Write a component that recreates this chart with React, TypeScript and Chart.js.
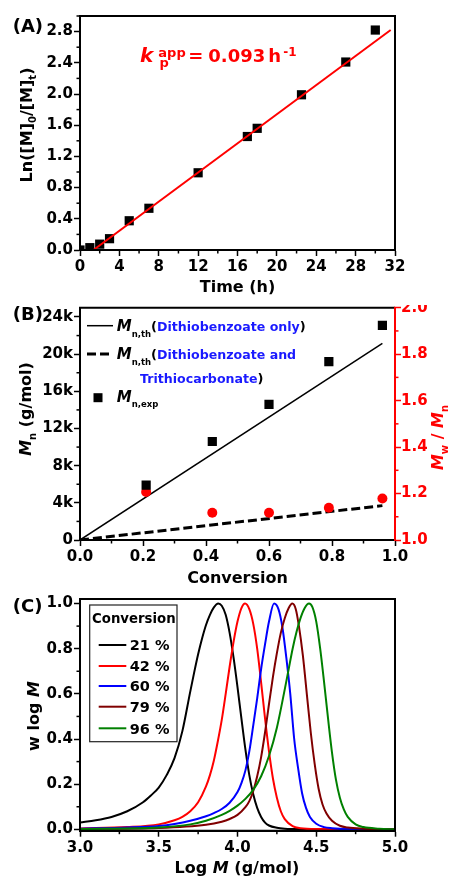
import React, { useEffect, useRef } from 'react';
import { Chart, registerables } from 'chart.js';
Chart.register(...registerables);

const FONT = '"DejaVu Sans", "Liberation Sans", sans-serif';
const RED = '#ff0000';
const BLUE_TXT = '#1a1aff';

// ---------- Panel A: kinetics ----------
const timeH = [0, 1, 2, 3, 5, 7, 12, 17, 18, 22.5, 27, 30];
const lnM0Mt = [0, 0.03, 0.075, 0.145, 0.375, 0.535, 0.99, 1.455, 1.56, 1.99, 2.41, 2.82];
const fitTime = [1.36, 31.56];
const fitLn = [0, 2.82];

// ---------- Panel B: Mn (in k g/mol) and dispersity vs conversion ----------
const convExp = [0.21, 0.42, 0.6, 0.79, 0.96];
const mnExpK = [5.9, 10.6, 14.6, 19.2, 23.1];
const dispersity = [1.207, 1.117, 1.117, 1.139, 1.179];
const convTh = [0, 0.96];
const mnThDithioK = [0, 21.15];
const mnThDithioTrithioK = [0, 3.7];

// ---------- Panel C: GPC traces ----------
const convLabels = ['21 %', '42 %', '60 %', '79 %', '96 %'];
const traceColors = ['#000000', '#ff0000', '#0000ff', '#800000', '#008000'];
const c21X = [3.0, 3.1, 3.2, 3.3, 3.4, 3.45, 3.5, 3.55, 3.6, 3.65, 3.7, 3.725, 3.75, 3.775, 3.8, 3.825, 3.85, 3.878, 3.9, 3.925, 3.95, 3.975, 4.0, 4.025, 4.05, 4.075, 4.1, 4.125, 4.15, 4.175, 4.2, 4.25, 4.3, 4.4, 5.0];
const c21Y = [0.03, 0.04, 0.055, 0.08, 0.12, 0.15, 0.185, 0.24, 0.315, 0.435, 0.61, 0.695, 0.775, 0.845, 0.905, 0.95, 0.983, 1.0, 0.99, 0.95, 0.87, 0.76, 0.63, 0.49, 0.355, 0.24, 0.155, 0.095, 0.055, 0.03, 0.017, 0.007, 0.003, 0.001, 0.0];
const c42X = [3.0, 3.3, 3.5, 3.6, 3.65, 3.7, 3.75, 3.8, 3.825, 3.85, 3.875, 3.9, 3.925, 3.95, 3.975, 4.0, 4.025, 4.048, 4.075, 4.1, 4.125, 4.15, 4.175, 4.2, 4.225, 4.25, 4.275, 4.3, 4.35, 4.4, 4.5, 5.0];
const c42Y = [0.004, 0.01, 0.022, 0.04, 0.055, 0.08, 0.12, 0.19, 0.24, 0.305, 0.39, 0.485, 0.6, 0.72, 0.83, 0.92, 0.98, 1.0, 0.975, 0.91, 0.8, 0.65, 0.49, 0.345, 0.225, 0.14, 0.08, 0.045, 0.014, 0.005, 0.001, 0.0];
const c60X = [3.0, 3.3, 3.5, 3.6, 3.7, 3.8, 3.85, 3.9, 3.95, 4.0, 4.025, 4.05, 4.075, 4.1, 4.125, 4.15, 4.175, 4.2, 4.232, 4.26, 4.285, 4.31, 4.335, 4.36, 4.385, 4.41, 4.435, 4.46, 4.5, 4.55, 4.6, 4.7, 5.0];
const c60Y = [0.003, 0.008, 0.015, 0.024, 0.038, 0.058, 0.072, 0.09, 0.118, 0.165, 0.205, 0.26, 0.345, 0.46, 0.58, 0.71, 0.82, 0.92, 1.0, 0.975, 0.895, 0.76, 0.6, 0.4, 0.27, 0.16, 0.095, 0.055, 0.025, 0.01, 0.005, 0.001, 0.0];
const c79X = [3.0, 3.5, 3.8, 3.9, 3.95, 4.0, 4.05, 4.075, 4.1, 4.125, 4.15, 4.175, 4.2, 4.225, 4.25, 4.275, 4.3, 4.325, 4.348, 4.37, 4.39, 4.415, 4.44, 4.465, 4.49, 4.515, 4.54, 4.565, 4.6, 4.65, 4.7, 4.8, 5.0];
const c79Y = [0.002, 0.006, 0.02, 0.034, 0.046, 0.064, 0.098, 0.125, 0.17, 0.235, 0.32, 0.43, 0.555, 0.675, 0.78, 0.87, 0.935, 0.98, 1.0, 0.975, 0.9, 0.77, 0.6, 0.43, 0.29, 0.18, 0.11, 0.07, 0.038, 0.016, 0.008, 0.003, 0.0];
const c96X = [3.0, 3.5, 3.7, 3.8, 3.9, 3.95, 4.0, 4.05, 4.1, 4.15, 4.2, 4.25, 4.3, 4.325, 4.35, 4.375, 4.4, 4.425, 4.454, 4.475, 4.5, 4.525, 4.55, 4.575, 4.6, 4.625, 4.65, 4.675, 4.7, 4.75, 4.8, 4.9, 5.0];
const c96Y = [0.001, 0.008, 0.022, 0.038, 0.064, 0.082, 0.105, 0.135, 0.175, 0.235, 0.325, 0.45, 0.62, 0.71, 0.8, 0.875, 0.935, 0.978, 1.0, 0.985, 0.92, 0.8, 0.65, 0.49, 0.34, 0.22, 0.14, 0.088, 0.055, 0.022, 0.01, 0.003, 0.0];
const tracesX = [c21X, c42X, c60X, c79X, c96X];
const tracesY = [c21Y, c42Y, c60Y, c79Y, c96Y];

const pts = (xs: number[], ys: number[]) => xs.map((x, i) => ({ x, y: ys[i] }));

type Run = { t: string; s: number; i?: boolean; dy?: number; c?: string; w?: string };
function rich(ctx: CanvasRenderingContext2D, runs: Run[], x: number, y: number, align: 'left' | 'center' = 'left', rot = 0) {
  ctx.save();
  ctx.translate(x, y);
  if (rot) ctx.rotate(rot);
  ctx.textBaseline = 'alphabetic';
  ctx.textAlign = 'left';
  const fonts = runs.map(r => `${r.i ? 'italic ' : ''}${r.w || 'bold'} ${r.s}px ${FONT}`);
  let total = 0;
  const widths = runs.map((r, k) => {
    ctx.font = fonts[k];
    const w = ctx.measureText(r.t).width;
    total += w;
    return w;
  });
  let cx = align === 'center' ? -total / 2 : 0;
  runs.forEach((r, k) => {
    ctx.font = fonts[k];
    ctx.fillStyle = r.c || '#000';
    ctx.fillText(r.t, cx, r.dy || 0);
    cx += widths[k];
  });
  ctx.restore();
}

function frame(ctx: CanvasRenderingContext2D, ca: any, rightColor = '#000') {
  ctx.save();
  ctx.lineWidth = 2;
  ctx.strokeStyle = '#000';
  ctx.beginPath();
  ctx.moveTo(ca.left, ca.bottom + 1);
  ctx.lineTo(ca.left, ca.top);
  ctx.lineTo(ca.right, ca.top);
  ctx.moveTo(ca.left - 1, ca.bottom);
  ctx.lineTo(ca.right + 1, ca.bottom);
  ctx.stroke();
  ctx.strokeStyle = rightColor;
  ctx.beginPath();
  ctx.moveTo(ca.right, ca.top - 1);
  ctx.lineTo(ca.right, ca.bottom + 1);
  ctx.stroke();
  ctx.restore();
}

function minorTicks(chart: any, id: string, step: number, major: number, side: 'bottom' | 'left' | 'right', color = '#000') {
  const ctx = chart.ctx as CanvasRenderingContext2D;
  const s = chart.scales[id];
  const ca = chart.chartArea;
  ctx.save();
  ctx.strokeStyle = color;
  ctx.lineWidth = 1.5;
  const start = Math.ceil(s.min / step - 1e-9);
  const end = Math.floor(s.max / step + 1e-9);
  for (let k = start; k <= end; k++) {
    const v = k * step;
    const r = v / major;
    if (Math.abs(r - Math.round(r)) < 1e-6) continue;
    const p = s.getPixelForValue(v);
    ctx.beginPath();
    if (side === 'bottom') { ctx.moveTo(p, ca.bottom); ctx.lineTo(p, ca.bottom + 3.5); }
    if (side === 'left') { ctx.moveTo(ca.left - 3.5, p); ctx.lineTo(ca.left, p); }
    if (side === 'right') { ctx.moveTo(ca.right, p); ctx.lineTo(ca.right + 3.5, p); }
    ctx.stroke();
  }
  ctx.restore();
}

function axis(o: {
  position: string; min: number; max: number; step: number; color?: string; padding: number;
  size: number; cb: (v: number) => string;
}) {
  const color = o.color || '#000';
  const horiz = o.position === 'bottom';
  return {
    type: 'linear',
    position: o.position,
    min: o.min,
    max: o.max,
    grid: { display: true, drawOnChartArea: false, drawTicks: true, tickLength: 6, tickWidth: 1.5, tickColor: color, color },
    border: { display: true, color, width: 2 },
    ticks: {
      stepSize: o.step,
      includeBounds: false,
      autoSkip: false,
      maxRotation: 0,
      color,
      padding: o.padding,
      font: { family: FONT, size: 15, weight: 'bold' },
      callback: (v: any) => o.cb(Number(v)),
    },
    afterFit: (s: any) => {
      if (horiz) s.height = o.size;
      else s.width = o.size;
    },
  };
}

const baseOptions = (padding: any) => ({
  responsive: false,
  animation: false,
  devicePixelRatio: 1,
  layout: { padding },
  plugins: { legend: { display: false }, tooltip: { enabled: false } },
});

function cfgA(): any {
  const off = 0;
  return {
    type: 'line',
    data: {
      datasets: [
        {
          data: pts(fitTime, fitLn), borderColor: RED, borderWidth: 2, pointRadius: 0, showLine: true, order: 0,
        },
        {
          data: pts(timeH, lnM0Mt), showLine: false, pointStyle: 'rect', pointRadius: 6.5,
          backgroundColor: '#000', borderWidth: 0, order: 1,
        },
      ],
    },
    options: {
      ...baseOptions({ top: 16, right: 57, left: 0, bottom: 0 }),
      scales: {
        x: axis({ position: 'bottom', min: 0, max: 32, step: 4, padding: 2, size: 46, cb: v => String(v) }),
        y: axis({ position: 'left', min: 0, max: 3.0, step: 0.4, padding: 1, size: 80, cb: v => v.toFixed(1) }),
      },
    },
    plugins: [{
      id: 'decorA',
      afterDraw(chart: any) {
        const ctx = chart.ctx as CanvasRenderingContext2D;
        frame(ctx, chart.chartArea);
        minorTicks(chart, 'x', 2, 4, 'bottom');
        minorTicks(chart, 'y', 0.2, 0.4, 'left');
        rich(ctx, [{ t: '(A)', s: 18 }], 12.7, 31.7 - off);
        rich(ctx, [{ t: 'Time (h)', s: 16 }], 237.5, 292 - off, 'center');
        rich(ctx, [
          { t: 'Ln([M]', s: 16 }, { t: '0', s: 10, dy: 4 }, { t: '/[M]', s: 16 }, { t: 't', s: 10, dy: 4 }, { t: ')', s: 16 },
        ], 32, 125 - off, 'center', -Math.PI / 2);
        // k_p^app annotation
        rich(ctx, [{ t: 'k', s: 20, i: true, c: RED }], 140, 61.7 - off);
        rich(ctx, [{ t: 'app', s: 13, c: RED }], 158.3, 57.3 - off);
        rich(ctx, [{ t: 'p', s: 13, c: RED }], 159.5, 66.6 - off);
        rich(ctx, [{ t: '=', s: 18, c: RED }], 188.3, 62 - off);
        rich(ctx, [{ t: '0.093', s: 18, c: RED }], 208.3, 62 - off);
        rich(ctx, [{ t: 'h', s: 18, c: RED }], 268.3, 62 - off);
        rich(ctx, [{ t: '-1', s: 12, c: RED }], 283.3, 56 - off);
      },
    }],
  };
}

function cfgB(): any {
  const off = 290;
  return {
    type: 'line',
    data: {
      datasets: [
        {
          data: pts(convExp, mnExpK), showLine: false, pointStyle: 'rect', pointRadius: 6.5,
          backgroundColor: '#000', borderWidth: 0, yAxisID: 'y', order: 0,
        },
        {
          data: pts(convExp, dispersity), showLine: false, pointStyle: 'circle', pointRadius: 5,
          backgroundColor: RED, borderWidth: 0, yAxisID: 'y2', order: 1,
        },
        {
          data: pts(convTh, mnThDithioK), borderColor: '#000', borderWidth: 1.5, pointRadius: 0,
          showLine: true, yAxisID: 'y', order: 2,
        },
        {
          data: pts(convTh, mnThDithioTrithioK), borderColor: '#000', borderWidth: 3, borderDash: [9, 4],
          pointRadius: 0, showLine: true, yAxisID: 'y', order: 3,
        },
      ],
    },
    options: {
      ...baseOptions({ top: 17.7, right: 0, left: 0, bottom: 0 }),
      scales: {
        x: axis({ position: 'bottom', min: 0, max: 1.0, step: 0.2, padding: 2, size: 45, cb: v => v.toFixed(1) }),
        y: axis({ position: 'left', min: 0, max: 25, step: 4, padding: 1, size: 80, cb: v => (v === 0 ? '0' : v + 'k') }),
        y2: axis({ position: 'right', min: 1.0, max: 2.0, step: 0.2, padding: 0, size: 57, color: RED, cb: v => v.toFixed(1) }),
      },
    },
    plugins: [{
      id: 'decorB',
      afterDraw(chart: any) {
        const ctx = chart.ctx as CanvasRenderingContext2D;
        frame(ctx, chart.chartArea, RED);
        minorTicks(chart, 'x', 0.1, 0.2, 'bottom');
        minorTicks(chart, 'y', 2, 4, 'left');
        minorTicks(chart, 'y2', 0.1, 0.2, 'right', RED);
        rich(ctx, [{ t: '(B)', s: 18 }], 12.7, 319.7 - off);
        rich(ctx, [{ t: 'Conversion', s: 16 }], 237.5, 582.5 - off, 'center');
        rich(ctx, [{ t: 'M', s: 16, i: true }, { t: 'n', s: 10, dy: 5 }, { t: ' (g/mol)', s: 16 }],
          31, 409 - off, 'center', -Math.PI / 2);
        rich(ctx, [
          { t: 'M', s: 16, i: true, c: RED }, { t: 'w', s: 10, dy: 5, c: RED }, { t: ' / ', s: 16, c: RED },
          { t: 'M', s: 16, i: true, c: RED }, { t: 'n', s: 10, dy: 5, c: RED },
        ], 443.3, 437.5 - off, 'center', -Math.PI / 2);

        // legend
        ctx.save();
        ctx.strokeStyle = '#000';
        ctx.lineWidth = 1.5;
        ctx.beginPath(); ctx.moveTo(87, 325.7 - off); ctx.lineTo(113, 325.7 - off); ctx.stroke();
        ctx.lineWidth = 3;
        ctx.setLineDash([9, 4]);
        ctx.beginPath(); ctx.moveTo(87, 354 - off); ctx.lineTo(113, 354 - off); ctx.stroke();
        ctx.setLineDash([]);
        ctx.fillStyle = '#000';
        ctx.fillRect(93.5, 393.2 - off, 9, 9);
        ctx.restore();
        rich(ctx, [
          { t: 'M', s: 15, i: true }, { t: 'n,th', s: 8.5, dy: 6 }, { t: '(', s: 13 },
          { t: 'Dithiobenzoate only', s: 12.6, c: BLUE_TXT }, { t: ')', s: 13 },
        ], 116.7, 330.5 - off);
        rich(ctx, [
          { t: 'M', s: 15, i: true }, { t: 'n,th', s: 8.5, dy: 6 }, { t: '(', s: 13 },
          { t: 'Dithiobenzoate and', s: 12.6, c: BLUE_TXT },
        ], 116.7, 359 - off);
        rich(ctx, [{ t: 'Trithiocarbonate', s: 12.6, c: BLUE_TXT }, { t: ')', s: 13 }], 140, 383 - off);
        rich(ctx, [{ t: 'M', s: 15, i: true }, { t: 'n,exp', s: 8.5, dy: 5 }], 116.7, 402.3 - off);
      },
    }],
  };
}

function cfgC(): any {
  const off = 585;
  return {
    type: 'line',
    data: {
      datasets: tracesX.map((xs, k) => ({
        data: pts(xs, tracesY[k]),
        borderColor: traceColors[k],
        borderWidth: 2,
        pointRadius: 0,
        showLine: true,
        cubicInterpolationMode: 'monotone',
        order: 4 - k,
      })),
    },
    options: {
      ...baseOptions({ top: 14, right: 57, left: 0, bottom: 0 }),
      scales: {
        x: axis({ position: 'bottom', min: 3.0, max: 5.0, step: 0.5, padding: 2, size: 46.3, cb: v => v.toFixed(1) }),
        y: axis({ position: 'left', min: -0.006, max: 1.02, step: 0.2, padding: 1, size: 80, cb: v => v.toFixed(1) }),
      },
    },
    plugins: [{
      id: 'decorC',
      afterDraw(chart: any) {
        const ctx = chart.ctx as CanvasRenderingContext2D;
        frame(ctx, chart.chartArea);
        minorTicks(chart, 'x', 0.25, 0.5, 'bottom');
        minorTicks(chart, 'y', 0.1, 0.2, 'left');
        rich(ctx, [{ t: '(C)', s: 18 }], 12.7, 611.7 - off);
        rich(ctx, [{ t: 'Log ', s: 16 }, { t: 'M', s: 16, i: true }, { t: ' (g/mol)', s: 16 }], 237, 873 - off, 'center');
        rich(ctx, [{ t: 'w log ', s: 16 }, { t: 'M', s: 16, i: true }], 39, 716 - off, 'center', -Math.PI / 2);
        // legend box
        ctx.save();
        ctx.strokeStyle = '#222';
        ctx.lineWidth = 1.2;
        ctx.strokeRect(89.7, 605 - off, 87.3, 136.7);
        const rows = [645, 666, 686, 706.7, 728.3];
        rows.forEach((ry, k) => {
          ctx.strokeStyle = traceColors[k];
          ctx.lineWidth = 2;
          ctx.beginPath();
          ctx.moveTo(98.7, ry - off);
          ctx.lineTo(126.3, ry - off);
          ctx.stroke();
        });
        ctx.restore();
        rich(ctx, [{ t: 'Conversion', s: 13.3 }], 92, 623.3 - off);
        rows.forEach((ry, k) => {
          rich(ctx, [{ t: convLabels[k], s: 14.5 }], 129.7, ry + 5.3 - off);
        });
      },
    }],
  };
}

export default function App() {
  const aRef = useRef<HTMLCanvasElement>(null);
  const bRef = useRef<HTMLCanvasElement>(null);
  const cRef = useRef<HTMLCanvasElement>(null);
  useEffect(() => {
    const charts = [
      new Chart(aRef.current as HTMLCanvasElement, cfgA()),
      new Chart(bRef.current as HTMLCanvasElement, cfgB()),
      new Chart(cRef.current as HTMLCanvasElement, cfgC()),
    ];
    return () => charts.forEach(c => c.destroy());
  }, []);
  return (
    <div style={{ position: 'absolute', left: 0, top: 0, width: 452, height: 877, background: '#fff', overflow: 'hidden' }}>
      <canvas ref={aRef} width={452} height={296} style={{ position: 'absolute', left: 0, top: 0, width: 452, height: 296 }} />
      <div style={{ position: 'absolute', left: 0, top: 305, width: 452, height: 280, overflow: 'hidden' }}>
        <canvas ref={bRef} width={452} height={295} style={{ position: 'absolute', left: 0, top: -15, width: 452, height: 295 }} />
      </div>
      <canvas ref={cRef} width={452} height={292} style={{ position: 'absolute', left: 0, top: 585, width: 452, height: 292 }} />
    </div>
  );
}
